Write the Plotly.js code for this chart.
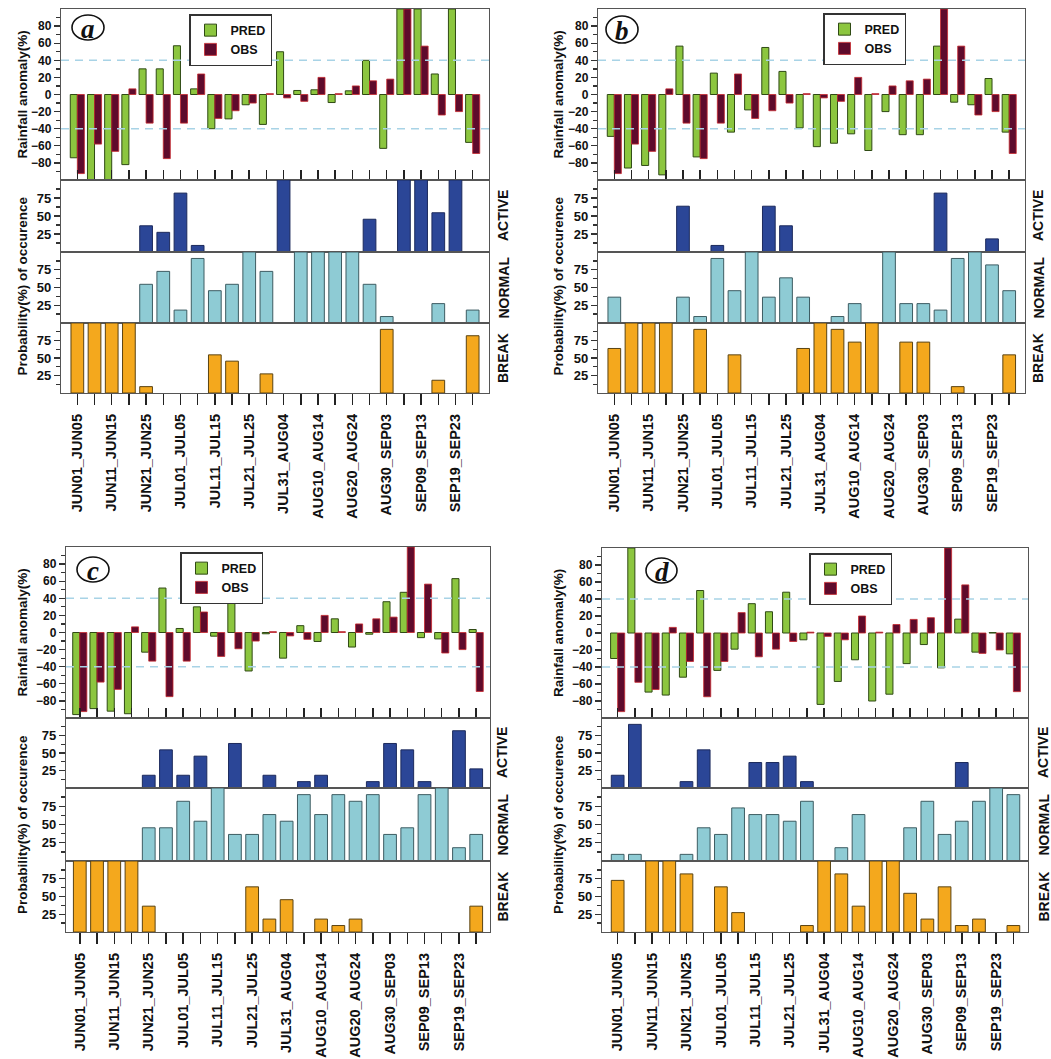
<!DOCTYPE html>
<html>
<head>
<meta charset="utf-8">
<script src="https://cdn.plot.ly/plotly-3.0.1.min.js"></script>
<style>
  html, body { margin: 0; padding: 0; background: #ffffff; }
  #chart { width: 1051px; height: 1059px; }
</style>
</head>
<body>
<div id="chart"></div>
<script>
// Pentads of the monsoon season (JUN01 to SEP28)
const pentads = [
  'JUN01_JUN05', 'JUN06_JUN10', 'JUN11_JUN15', 'JUN16_JUN20', 'JUN21_JUN25', 'JUN26_JUN30',
  'JUL01_JUL05', 'JUL06_JUL10', 'JUL11_JUL15', 'JUL16_JUL20', 'JUL21_JUL25', 'JUL26_JUL30',
  'JUL31_AUG04', 'AUG05_AUG09', 'AUG10_AUG14', 'AUG15_AUG19', 'AUG20_AUG24', 'AUG25_AUG29',
  'AUG30_SEP03', 'SEP04_SEP08', 'SEP09_SEP13', 'SEP14_SEP18', 'SEP19_SEP23', 'SEP24_SEP28'
];
const tickLabels = [
  'JUN01_JUN05', 'JUN11_JUN15', 'JUN21_JUN25', 'JUL01_JUL05', 'JUL11_JUL15', 'JUL21_JUL25',
  'JUL31_AUG04', 'AUG10_AUG14', 'AUG20_AUG24', 'AUG30_SEP03', 'SEP09_SEP13', 'SEP19_SEP23'
];

// Observed rainfall anomaly (%), same in every panel
const obs = [-92.5, -58, -66.5, 6.6, -33.5, -75, -33.5, 24, -28, -19, -10, 1,
             -4, -8, 20, 1, 10, 16, 18, 100, 56.6, -24, -20, -69];

// Predicted rainfall anomaly (%)
const predA = [-74, -100, -100, -82, 30, 30, 57, 6.6, -40, -28.5, -12, -35,
               50, 4.7, 5.5, -9.4, 4.3, 40, -63, 100, 100, 24, 100, -56];
const predB = [-49, -86, -83, -94, 56.6, -73, 25, -44, -18, 55, 27, -39,
               -61, -57, -46, -65.5, -20, -47, -47, 56.6, -9, -12, 18.7, -44];
const predC = [-96, -89, -92, -95, -23, 52, 4.7, 30, -4.3, 39, -45, -1.5,
               -30, 8, -10.5, 16, -17, -2, 36, 47, -6, -7.5, 63, 3.5];
const predD = [-30, 100, -69.5, -73, -52, 50, -44, -19, 34.5, 25, 48, -8,
               -84, -57, -31.5, -80, -72, -36, -13.6, -41, 16.3, -22.5, 0.5, -24.5];

// Probability (%) of occurrence of each phase
const activeA = [0, 0, 0, 0, 36.4, 27.3, 81.8, 9.1, 0, 0, 0, 0, 100, 0, 0, 0, 0, 45.5, 0, 100, 100, 54.5, 100, 0];
const normalA = [0, 0, 0, 0, 54.5, 72.7, 18.2, 90.9, 45.5, 54.5, 100, 72.7, 0, 100, 100, 100, 100, 54.5, 9.1, 0, 0, 27.3, 0, 18.2];
const breakA  = [100, 100, 100, 100, 9.1, 0, 0, 0, 54.5, 45.5, 0, 27.3, 0, 0, 0, 0, 0, 0, 90.9, 0, 0, 18.2, 0, 81.8];

const activeB = [0, 0, 0, 0, 63.6, 0, 9.1, 0, 0, 63.6, 36.4, 0, 0, 0, 0, 0, 0, 0, 0, 81.8, 0, 0, 18.2, 0];
const normalB = [36.4, 0, 0, 0, 36.4, 9.1, 90.9, 45.5, 100, 36.4, 63.6, 36.4, 0, 9.1, 27.3, 0, 100, 27.3, 27.3, 18.2, 90.9, 100, 81.8, 45.5];
const breakB  = [63.6, 100, 100, 100, 0, 90.9, 0, 54.5, 0, 0, 0, 63.6, 100, 90.9, 72.7, 100, 0, 72.7, 72.7, 0, 9.1, 0, 0, 54.5];

const activeC = [0, 0, 0, 0, 18.2, 54.5, 18.2, 45.5, 0, 63.6, 0, 18.2, 0, 9.1, 18.2, 0, 0, 9.1, 63.6, 54.5, 9.1, 0, 81.8, 27.3];
const normalC = [0, 0, 0, 0, 45.5, 45.5, 81.8, 54.5, 100, 36.4, 36.4, 63.6, 54.5, 90.9, 63.6, 90.9, 81.8, 90.9, 36.4, 45.5, 90.9, 100, 18.2, 36.4];
const breakC  = [100, 100, 100, 100, 36.4, 0, 0, 0, 0, 0, 63.6, 18.2, 45.5, 0, 18.2, 9.1, 18.2, 0, 0, 0, 0, 0, 0, 36.4];

const activeD = [18.2, 90.9, 0, 0, 9.1, 54.5, 0, 0, 36.4, 36.4, 45.5, 9.1, 0, 0, 0, 0, 0, 0, 0, 0, 36.4, 0, 0, 0];
const normalD = [9.1, 9.1, 0, 0, 9.1, 45.5, 36.4, 72.7, 63.6, 63.6, 54.5, 81.8, 0, 18.2, 63.6, 0, 0, 45.5, 81.8, 36.4, 54.5, 81.8, 100, 90.9];
const breakD  = [72.7, 0, 100, 100, 81.8, 0, 63.6, 27.3, 0, 0, 0, 9.1, 100, 81.8, 36.4, 100, 100, 54.5, 18.2, 63.6, 9.1, 18.2, 0, 9.1];

const seriesNames = ['PRED', 'OBS'];
const phaseNames = ['ACTIVE', 'NORMAL', 'BREAK'];
const panelLetters = ['a', 'b', 'c', 'd'];

// ---- styling and geometry ----
const W = 1051, H = 1059;
const FONT = 'Liberation Sans, Arial, Helvetica, sans-serif';
const COL = {
  pred: '#8cc63f', predLine: '#2f4a14',
  obs: '#5e0b2c', obsLine: '#c8282e',
  active: '#2b4697', activeLine: '#1c2a5c',
  normal: '#8ecbd4', normalLine: '#3d5c62',
  brk: '#f4a81d', brkLine: '#5a4312',
  frame: '#555555', dash: '#a8d3e6'
};

// pixel boxes of each panel: left, right, row edges (rain top, rain bottom, active, normal, break bottoms)
const panels = [
  { pred: predA, phases: [activeA, normalA, breakA], left: 61, right: 489, rows: [9, 180, 252, 323, 393],
    xr: [-0.95, 23.95], legend: [189, 14], circle: [11, 43, 6, 31], titleX: 22, phaseX: 503 },
  { pred: predB, phases: [activeB, normalB, breakB], left: 598, right: 1025, rows: [9, 180, 252, 323, 393],
    xr: [-0.95, 23.92], legend: [823, 13], circle: [8, 40, 7, 34], titleX: 558, phaseX: 1038 },
  { pred: predC, phases: [activeC, normalC, breakC], left: 66, right: 490, rows: [547, 718, 788, 861, 932],
    xr: [-0.8, 23.8], legend: [180, 552], circle: [11, 43, 10, 35], titleX: 22, phaseX: 502 },
  { pred: predD, phases: [activeD, normalD, breakD], left: 602, right: 1028, rows: [548, 718, 788, 861, 932],
    xr: [-0.91, 23.85], legend: [809, 553], circle: [44, 75, 10, 35], titleX: 558, phaseX: 1043 }
];

const px2x = p => p / W;
const px2y = p => 1 - p / H;
const nz = arr => arr.map(v => (v === 0 ? null : v));
const ticktext = pentads.map(p => (tickLabels.includes(p) ? p : ''));

const data = [];
const layout = {
  width: W, height: H,
  margin: { l: 0, r: 0, t: 0, b: 0 },
  paper_bgcolor: '#ffffff', plot_bgcolor: '#ffffff',
  barmode: 'overlay',
  showlegend: true,
  hovermode: false,
  font: { family: FONT, color: '#111111' },
  shapes: [], annotations: []
};

const phaseStyle = [
  [COL.active, COL.activeLine],
  [COL.normal, COL.normalLine],
  [COL.brk, COL.brkLine]
];

panels.forEach((pn, i) => {
  const legendKey = i === 0 ? 'legend' : 'legend' + (i + 1);
  const xdom = [px2x(pn.left), px2x(pn.right)];

  for (let r = 0; r < 4; r++) {
    const n = 4 * i + r + 1;
    const xName = n === 1 ? 'x' : 'x' + n;
    const yName = n === 1 ? 'y' : 'y' + n;
    const xKey = n === 1 ? 'xaxis' : 'xaxis' + n;
    const yKey = n === 1 ? 'yaxis' : 'yaxis' + n;
    const ydom = [px2y(pn.rows[r + 1]), px2y(pn.rows[r])];

    const xa = {
      domain: xdom, anchor: yName, type: 'category',
      categoryorder: 'array', categoryarray: pentads, range: pn.xr,
      showline: true, mirror: true, linecolor: COL.frame, linewidth: 1.2,
      showgrid: false, zeroline: false, fixedrange: true, automargin: false,
      tickmode: 'array', tickvals: pentads, ticktext: ticktext,
      tickcolor: '#222222', tickwidth: 1.5, showticklabels: false, ticks: ''
    };
    const ya = {
      domain: ydom, anchor: xName,
      showline: true, mirror: true, linecolor: COL.frame, linewidth: 1.2,
      showgrid: false, zeroline: false, fixedrange: true, automargin: false,
      ticks: 'outside', ticklen: 6, tickwidth: 1.3, tickcolor: '#333333',
      tickfont: { family: FONT, size: 12, weight: 'bold', color: '#111111' }
    };

    if (r === 0) {
      xa.ticks = 'inside';
      xa.ticklen = 10;
      ya.range = [-100, 100];
      ya.tickmode = 'array';
      ya.tickvals = [-80, -60, -40, -20, 0, 20, 40, 60, 80];
      ya.minor = { tickvals: [-90, -70, -50, -30, -10, 10, 30, 50, 70, 90], ticks: 'outside', ticklen: 4, tickcolor: '#333333' };

      data.push({
        type: 'bar', name: seriesNames[0], x: pentads, y: pn.pred,
        xaxis: xName, yaxis: yName, legend: legendKey,
        offset: -0.41, width: 0.41,
        marker: { color: COL.pred, line: { color: COL.predLine, width: 1 } }
      });
      data.push({
        type: 'bar', name: seriesNames[1], x: pentads, y: obs,
        xaxis: xName, yaxis: yName, legend: legendKey,
        offset: 0, width: 0.41,
        marker: { color: COL.obs, line: { color: COL.obsLine, width: 0.8 } }
      });

      [40, -40].forEach(v => layout.shapes.push({
        type: 'line', xref: xName + ' domain', yref: yName,
        x0: 0, x1: 1, y0: v, y1: v, layer: 'above',
        line: { color: COL.dash, width: 1.6, dash: '8px,6px' }
      }));

      // panel letter in an ellipse
      const c = pn.circle;
      layout.shapes.push({
        type: 'circle', xref: xName + ' domain', yref: yName + ' domain',
        xsizemode: 'pixel', ysizemode: 'pixel', xanchor: 0, yanchor: 1,
        x0: c[0], x1: c[1], y0: -c[3], y1: -c[2],
        line: { color: '#111111', width: 1.6 }, fillcolor: 'rgba(255,255,255,0)'
      });
      layout.annotations.push({
        xref: xName + ' domain', yref: yName + ' domain', x: 0, y: 1,
        xshift: (c[0] + c[1]) / 2, yshift: -(c[2] + c[3]) / 2 - 1,
        xanchor: 'center', yanchor: 'middle', showarrow: false,
        text: '<b><i>' + panelLetters[i] + '</i></b>',
        font: { family: 'Liberation Serif, Times New Roman, serif', size: 27, color: '#111111' }
      });

      layout.annotations.push({
        xref: 'paper', yref: 'paper', x: px2x(pn.titleX),
        y: px2y((pn.rows[0] + pn.rows[1]) / 2),
        xanchor: 'center', yanchor: 'middle', textangle: -90, showarrow: false,
        text: 'Rainfall anomaly(%)',
        font: { family: FONT, size: 13.5, weight: 'bold', color: '#111111' }
      });

      layout[legendKey] = {
        x: px2x(pn.legend[0]), y: px2y(pn.legend[1]), xanchor: 'left', yanchor: 'top',
        bgcolor: '#ffffff', bordercolor: '#333333', borderwidth: 1.5,
        itemwidth: 30, tracegroupgap: 0,
        font: { family: FONT, size: 12.5, weight: 'bold', color: '#111111' }
      };
    } else {
      const ph = r - 1;
      ya.range = [0, 100];
      ya.tickmode = 'array';
      ya.tickvals = [25, 50, 75];
      ya.minor = { tickvals: [12.5, 37.5, 62.5, 87.5], ticks: 'outside', ticklen: 4, tickcolor: '#333333' };
      ya.tickfont = { family: FONT, size: 13, weight: 'bold', color: '#111111' };

      if (r === 3) {
        xa.ticks = 'outside';
        xa.ticklen = 11;
        xa.showticklabels = true;
        xa.tickangle = -90;
        xa.ticklabelstandoff = 3;
        xa.tickfont = { family: FONT, size: 14.5, weight: 'bold', color: '#111111' };
      }

      data.push({
        type: 'bar', name: phaseNames[ph], x: pentads, y: nz(pn.phases[ph]),
        xaxis: xName, yaxis: yName, showlegend: false, width: 0.74,
        marker: { color: phaseStyle[ph][0], line: { color: phaseStyle[ph][1], width: 1 } }
      });

      layout.annotations.push({
        xref: 'paper', yref: 'paper', x: px2x(pn.phaseX),
        y: px2y((pn.rows[r] + pn.rows[r + 1]) / 2),
        xanchor: 'center', yanchor: 'middle', textangle: -90, showarrow: false,
        text: phaseNames[ph],
        font: { family: FONT, size: 14, weight: 'bold', color: '#111111' }
      });
    }
    layout[xKey] = xa;
    layout[yKey] = ya;
  }

  layout.annotations.push({
    xref: 'paper', yref: 'paper', x: px2x(pn.titleX),
    y: px2y((pn.rows[1] + pn.rows[4]) / 2),
    xanchor: 'center', yanchor: 'middle', textangle: -90, showarrow: false,
    text: 'Probability(%) of occurence',
    font: { family: FONT, size: 13.5, weight: 'bold', color: '#111111' }
  });
});

Plotly.newPlot('chart', data, layout, { staticPlot: true, displayModeBar: false });
</script>
</body>
</html>
